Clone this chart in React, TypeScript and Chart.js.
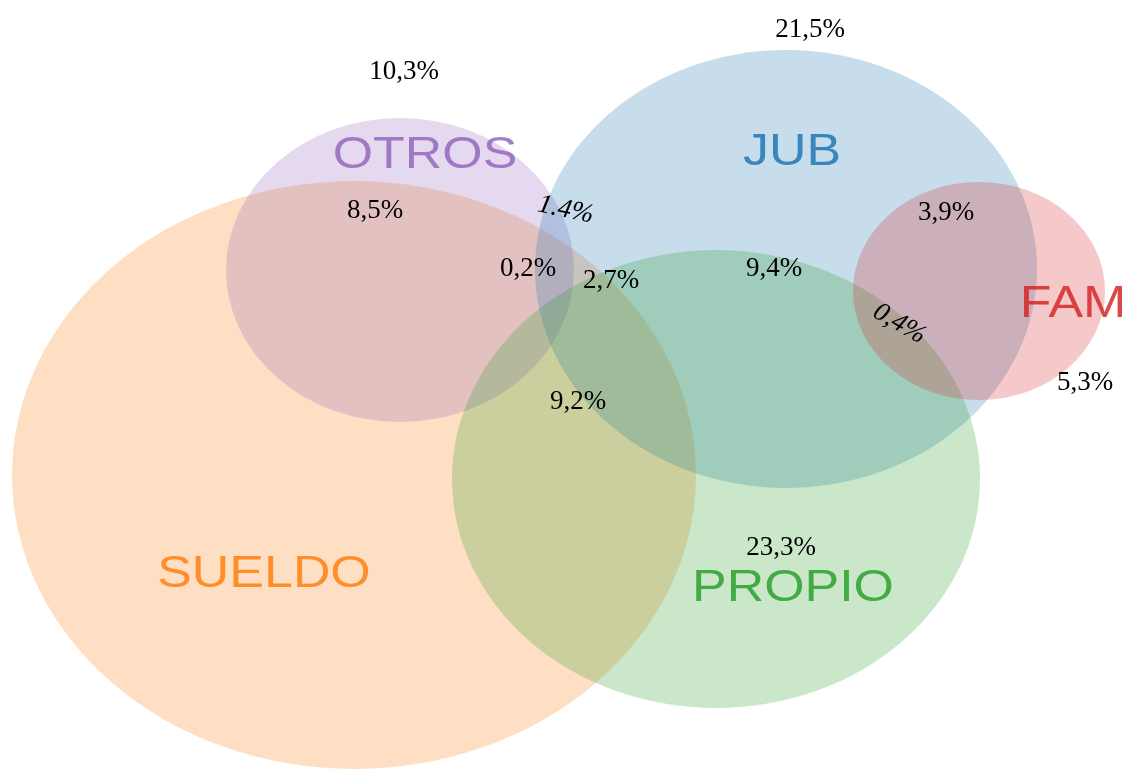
import React, { useEffect, useRef } from "react";
import { Chart, registerables } from "chart.js";

Chart.register(...registerables);

// Sets (ellipses) in picture units
const setNames = ["SUELDO", "OTROS", "JUB", "PROPIO", "FAM"];
const setCenterX = [354, 400, 786, 716, 979];
const setCenterY = [475, 270, 269, 479, 291];
const setRadiusX = [342, 174, 251, 264, 126];
const setRadiusY = [294, 152, 219, 229, 109];
const setColors = ["#ff7f0e", "#9467bd", "#1f77b4", "#2ca02c", "#d62728"];

// Set name label positions
const nameX = [264, 425, 792, 793, 1073];
const nameY = [573, 154, 151, 587, 303];

// Percentage labels
const pctLabels = ["10,3%", "21,5%", "8,5%", "1.4%", "3,9%", "0,2%", "2,7%", "9,4%", "0,4%", "5,3%", "9,2%", "23,3%"];
const pctX = [404, 810, 375, 566, 946, 528, 611, 774, 900, 1085, 578, 781];
const pctY = [71, 29, 210, 209, 212, 268, 280, 268, 323, 382, 401, 547];
const pctAngle = [0, 0, 0, 12, 0, 0, 0, 0, 30, 0, 0, 0];
const pctItalic = [false, false, false, true, false, false, false, false, true, false, false, false];

const W = 1122;
const H = 771;

function hexToRgba(hex: string, a: number) {
  const n = parseInt(hex.slice(1), 16);
  return `rgba(${(n >> 16) & 255},${(n >> 8) & 255},${n & 255},${a})`;
}

const vennPlugin = {
  id: "venn",
  afterDatasetsDraw(chart: any) {
    const ctx = chart.ctx;
    const xs = chart.scales.x;
    const ys = chart.scales.y;
    ctx.save();
    chart.data.datasets.forEach((ds: any, i: number) => {
      if (ds.kind !== "set") return;
      const p = ds.data[0];
      const cx = xs.getPixelForValue(p.x);
      const cy = ys.getPixelForValue(p.y);
      const rx = Math.abs(xs.getPixelForValue(p.x + ds.rx) - cx);
      const ry = Math.abs(ys.getPixelForValue(p.y + ds.ry) - cy);
      ctx.beginPath();
      ctx.ellipse(cx, cy, rx, ry, 0, 0, Math.PI * 2);
      ctx.fillStyle = hexToRgba(ds.color, 0.25);
      ctx.fill();
    });
    // set names
    chart.data.datasets.forEach((ds: any) => {
      if (ds.kind !== "name") return;
      const p = ds.data[0];
      const x = xs.getPixelForValue(p.x);
      const y = ys.getPixelForValue(p.y);
      ctx.save();
      ctx.translate(x, y);
      ctx.scale(1.18, 1);
      ctx.font = "44px 'Liberation Sans', Arial, sans-serif";
      ctx.textAlign = "center";
      ctx.textBaseline = "middle";
      ctx.fillStyle = hexToRgba(ds.color, 0.85);
      ctx.fillText(ds.text, 0, 2);
      ctx.restore();
    });
    // percentages
    chart.data.datasets.forEach((ds: any) => {
      if (ds.kind !== "pct") return;
      const p = ds.data[0];
      const x = xs.getPixelForValue(p.x);
      const y = ys.getPixelForValue(p.y);
      ctx.save();
      ctx.translate(x, y);
      ctx.rotate((ds.angle * Math.PI) / 180);
      ctx.font = `${ds.italic ? "italic " : ""}27px 'Liberation Serif', 'Times New Roman', serif`;
      ctx.textAlign = "center";
      ctx.textBaseline = "middle";
      ctx.fillStyle = "#000";
      ctx.fillText(ds.text, 0, 1);
      ctx.restore();
    });
    ctx.restore();
  },
};

export default function App() {
  const ref = useRef<HTMLCanvasElement | null>(null);
  useEffect(() => {
    document.body.style.margin = "0";
    if (!ref.current) return;
    const datasets: any[] = [];
    setNames.forEach((n, i) => {
      datasets.push({
        kind: "set",
        label: n,
        data: [{ x: setCenterX[i], y: setCenterY[i] }],
        rx: setRadiusX[i],
        ry: setRadiusY[i],
        color: setColors[i],
        pointRadius: 0,
      });
    });
    setNames.forEach((n, i) => {
      datasets.push({
        kind: "name",
        label: n + " label",
        text: n,
        data: [{ x: nameX[i], y: nameY[i] }],
        color: setColors[i],
        pointRadius: 0,
      });
    });
    pctLabels.forEach((t, i) => {
      datasets.push({
        kind: "pct",
        label: t,
        text: t,
        data: [{ x: pctX[i], y: pctY[i] }],
        angle: pctAngle[i],
        italic: pctItalic[i],
        pointRadius: 0,
      });
    });
    const chart = new Chart(ref.current, {
      type: "scatter",
      data: { datasets },
      options: {
        animation: false,
        responsive: false,
        maintainAspectRatio: false,
        layout: { padding: 0 },
        plugins: { legend: { display: false }, tooltip: { enabled: false } },
        scales: {
          x: { type: "linear", min: 0, max: W, display: false },
          y: { type: "linear", min: 0, max: H, reverse: true, display: false },
        },
      },
      plugins: [vennPlugin],
    });
    return () => chart.destroy();
  }, []);
  return (
    <div style={{ width: W, height: H, background: "#fff" }}>
      <canvas ref={ref} width={W} height={H} style={{ display: "block", width: W, height: H }} />
    </div>
  );
}
